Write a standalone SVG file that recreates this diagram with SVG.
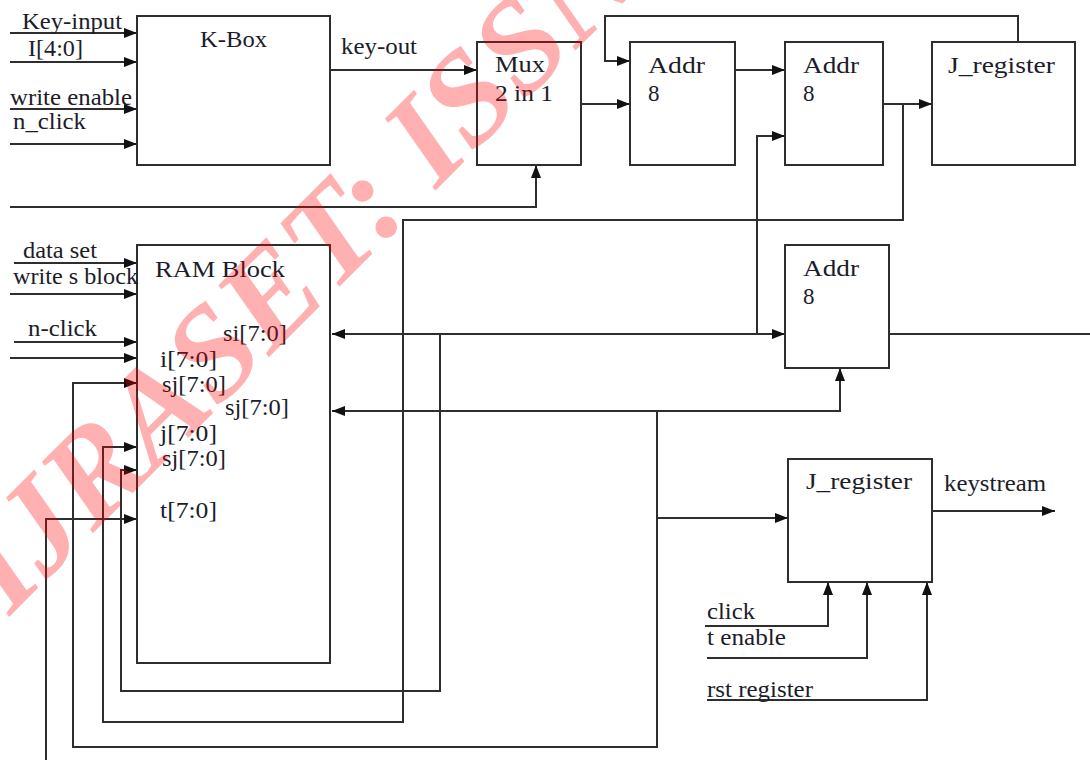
<svg xmlns="http://www.w3.org/2000/svg" width="1090" height="760" viewBox="0 0 1090 760">
<style>
.box{fill:#fff;stroke:#2e2e2e;stroke-width:2}
.w{fill:none;stroke:#2e2e2e;stroke-width:2}
.a{marker-end:url(#ah)}
.t{font-family:"Liberation Serif","Times New Roman",serif;font-size:23px;fill:#1c1c2a}
.wm{font-family:"Liberation Serif","Times New Roman",serif;font-size:132px;font-style:italic;font-weight:bold;fill:#ff0000;opacity:0.3}
</style>
<defs>
<marker id="ah" viewBox="0 0 13 10" refX="13" refY="5" markerWidth="13" markerHeight="10" markerUnits="userSpaceOnUse" orient="auto-start-reverse">
<path d="M0,0 L13,5 L0,10 z" fill="#111"/>
</marker>
</defs>
<rect width="1090" height="760" fill="#fff"/>

<g id="connectors">
<path class="w a" d="M10,33 H137"/>
<path class="w a" d="M10,62 H137"/>
<path class="w a" d="M10,109 H137"/>
<path class="w a" d="M10,144 H137"/>
<path class="w a" d="M330,70 H477"/>
<path class="w a" d="M10,207 H536 V165"/>
<path class="w a" d="M581,104 H630"/>
<path class="w a" d="M1018,42 V16 H605 V61 H630"/>
<path class="w a" d="M735,70 H785"/>
<path class="w a" d="M883,104 H932"/>
<path class="w a" d="M903,104 V220 H403 V722 H103 V447 H137"/>
<path class="w a" d="M332,334 H785" style="marker-start:url(#ah)"/>
<path class="w a" d="M757,334 V136 H785"/>
<path class="w a" d="M440,334 V691 H121 V470 H137"/>
<path class="w a" d="M332,411 H840 V368" style="marker-start:url(#ah)"/>
<path class="w a" d="M657,411 V747 H73 V383 H137"/>
<path class="w a" d="M657,518 H788"/>
<path class="w a" d="M46,760 V519 H137"/>
<path class="w a" d="M14,263 H137"/>
<path class="w a" d="M10,294 H137"/>
<path class="w a" d="M14,342 H137"/>
<path class="w a" d="M10,358 H137"/>
<path class="w" d="M889,334 H1090"/>
<path class="w a" d="M932,511 H1055"/>
<path class="w a" d="M705,626 H828 V582"/>
<path class="w a" d="M707,658 H867 V582"/>
<path class="w a" d="M707,700 H927 V582"/>
</g>

<g id="kbox">
<rect class="box" x="137" y="16" width="193" height="149"/>
<text class="t" x="200" y="47" textLength="67" lengthAdjust="spacingAndGlyphs">K-Box</text>
</g>
<g id="mux">
<rect class="box" x="477" y="42" width="104" height="123"/>
<text class="t" x="495" y="72" textLength="50" lengthAdjust="spacingAndGlyphs">Mux</text>
<text class="t" x="495" y="101" textLength="58" lengthAdjust="spacingAndGlyphs">2 in 1</text>
</g>
<g id="addr1">
<rect class="box" x="630" y="42" width="105" height="123"/>
<text class="t" x="648" y="73" textLength="57" lengthAdjust="spacingAndGlyphs">Addr</text>
<text class="t" x="648" y="101">8</text>
</g>
<g id="addr2">
<rect class="box" x="785" y="42" width="98" height="123"/>
<text class="t" x="803" y="73" textLength="56" lengthAdjust="spacingAndGlyphs">Addr</text>
<text class="t" x="803" y="101">8</text>
</g>
<g id="jreg1">
<rect class="box" x="932" y="42" width="143" height="123"/>
<text class="t" x="948" y="73" textLength="107" lengthAdjust="spacingAndGlyphs">J_register</text>
</g>
<g id="ram">
<rect class="box" x="137" y="245" width="193" height="418"/>
<text class="t" x="155" y="277" textLength="130" lengthAdjust="spacingAndGlyphs">RAM Block</text>
<text class="t" x="223" y="341" textLength="64" lengthAdjust="spacingAndGlyphs">si[7:0]</text>
<text class="t" x="160" y="367" textLength="57" lengthAdjust="spacingAndGlyphs">i[7:0]</text>
<text class="t" x="162" y="392" textLength="64" lengthAdjust="spacingAndGlyphs">sj[7:0]</text>
<text class="t" x="225" y="415" textLength="64" lengthAdjust="spacingAndGlyphs">sj[7:0]</text>
<text class="t" x="160" y="441" textLength="57" lengthAdjust="spacingAndGlyphs">j[7:0]</text>
<text class="t" x="162" y="466" textLength="64" lengthAdjust="spacingAndGlyphs">sj[7:0]</text>
<text class="t" x="160" y="518" textLength="57" lengthAdjust="spacingAndGlyphs">t[7:0]</text>
</g>
<g id="addr3">
<rect class="box" x="785" y="245" width="104" height="123"/>
<text class="t" x="803" y="276" textLength="56" lengthAdjust="spacingAndGlyphs">Addr</text>
<text class="t" x="803" y="304">8</text>
</g>
<g id="jreg2">
<rect class="box" x="788" y="459" width="144" height="123"/>
<text class="t" x="806" y="489" textLength="106" lengthAdjust="spacingAndGlyphs">J_register</text>
</g>

<g id="labels">
<text class="t" x="22" y="29" textLength="100" lengthAdjust="spacingAndGlyphs">Key-input</text>
<text class="t" x="28" y="56" textLength="55" lengthAdjust="spacingAndGlyphs">I[4:0]</text>
<text class="t" x="10" y="105" textLength="122" lengthAdjust="spacingAndGlyphs">write enable</text>
<text class="t" x="13" y="129" textLength="73" lengthAdjust="spacingAndGlyphs">n_click</text>
<text class="t" x="341" y="54" textLength="76" lengthAdjust="spacingAndGlyphs">key-out</text>
<text class="t" x="23" y="258" textLength="74" lengthAdjust="spacingAndGlyphs">data set</text>
<text class="t" x="13" y="284" textLength="125" lengthAdjust="spacingAndGlyphs">write s block</text>
<text class="t" x="28" y="336" textLength="69" lengthAdjust="spacingAndGlyphs">n-click</text>
<text class="t" x="944" y="491" textLength="102" lengthAdjust="spacingAndGlyphs">keystream</text>
<text class="t" x="707" y="619" textLength="48" lengthAdjust="spacingAndGlyphs">click</text>
<text class="t" x="707" y="645" textLength="79" lengthAdjust="spacingAndGlyphs">t enable</text>
<text class="t" x="707" y="697" textLength="106" lengthAdjust="spacingAndGlyphs">rst register</text>
</g>

<text class="wm" transform="translate(10,616) rotate(-45)">IJRASET: ISSN</text>
</svg>
